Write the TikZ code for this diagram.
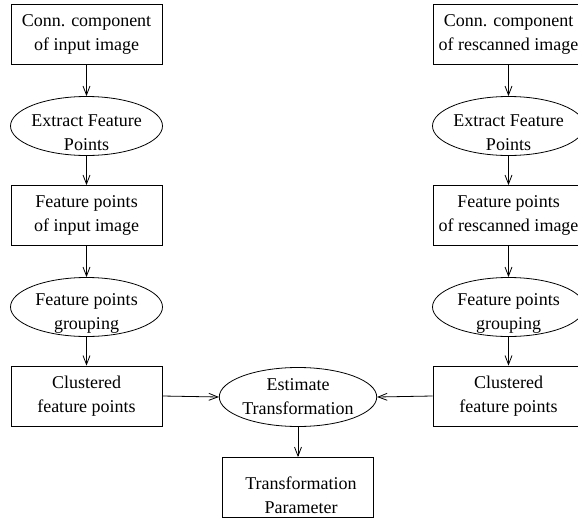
\documentclass[tikz,border=0pt]{standalone}
\usepackage{fontspec}
\setmainfont{Liberation Serif}
\usetikzlibrary{arrows.meta,shapes.geometric,calc}
\begin{document}
\begin{tikzpicture}[x=1pt,y=-1pt,
  every node/.style={font=\fontsize{18}{24}\selectfont},
  box/.style={draw,line width=0.8pt,minimum width=151pt,minimum height=60pt,inner sep=0pt,align=center},
  ell/.style={draw,ellipse,line width=0.8pt,minimum width=152pt,minimum height=59pt,inner sep=0pt},
  txt/.style={align=center,inner sep=0pt},
  arr/.style={line width=0.8pt,-{Straight Barb[length=9pt,width=7pt]}}]
\useasboundingbox (0,0) rectangle (578,522);
\clip (0,0) rectangle (578,522);
% left column
\node[box] (b1) at (86.5,34) {Conn. component\\of input image};
\node[ell] (e1) at (86.5,126) {};
\node[txt] (t1) at (86.5,132.5) {Extract Feature\\Points};
\node[box] (b2) at (86.5,215.5) {Feature points\\of input image};
\node[ell] (e2) at (86.5,307) {};
\node[txt] (t2) at (86.5,313) {Feature points\\grouping};
\node[box] (b3) at (86.5,396) {Clustered\\feature points};
% right column
\node[box] (r1) at (508.5,34) {Conn. component\\of rescanned image};
\node[ell] (re1) at (508.5,126) {};
\node[txt] (rt1) at (508.5,132.5) {Extract Feature\\Points};
\node[box] (r2) at (508.5,215.5) {Feature points\\of rescanned image};
\node[ell] (re2) at (508.5,307) {};
\node[txt] (rt2) at (508.5,313) {Feature points\\grouping};
\node[box] (r3) at (508.5,396) {Clustered\\feature points};
% centre
\node[ell,align=center] (est) at (298,397) {Estimate\\Transformation};
\node[box] (tp) at (298,487.5) {};
\node[txt] (tpt) at (301,495) {Transformation\\Parameter};
% arrows
\draw[arr] (b1) -- (e1);
\draw[arr] (e1) -- (b2);
\draw[arr] (b2) -- (e2);
\draw[arr] (e2) -- (b3);
\draw[arr] (r1) -- (re1);
\draw[arr] (re1) -- (r2);
\draw[arr] (r2) -- (re2);
\draw[arr] (re2) -- (r3);
\draw[arr] (b3.east) -- (est.west);
\draw[arr] (r3.west) -- (est.east);
\draw[arr] (est) -- (tp);
\end{tikzpicture}
\end{document}
